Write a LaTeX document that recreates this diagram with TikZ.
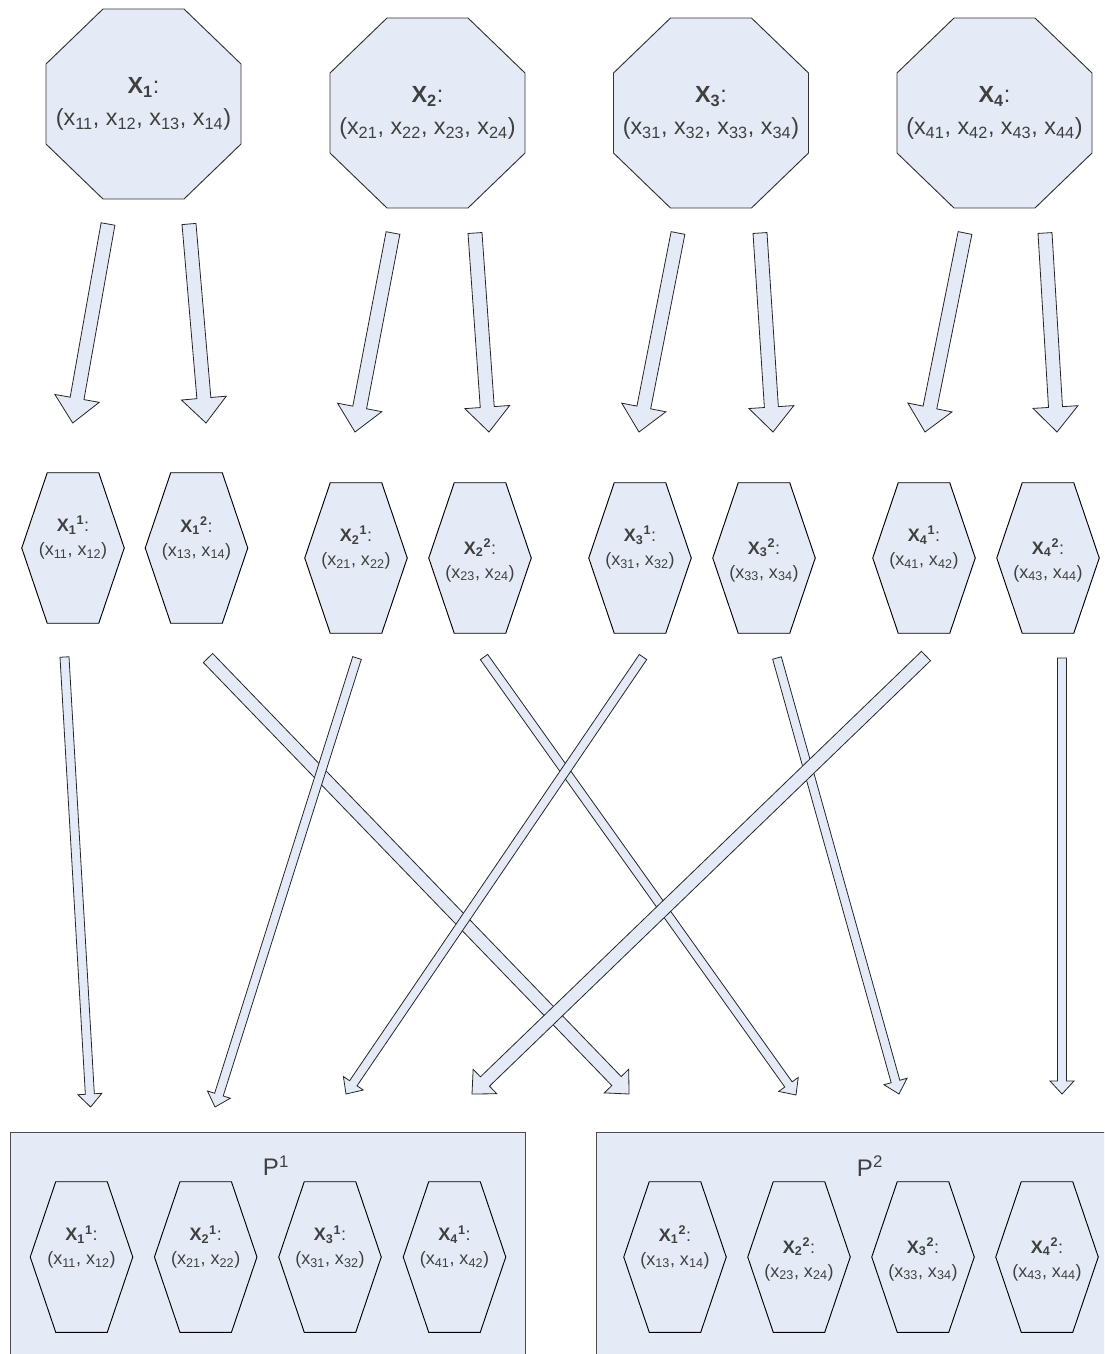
\documentclass[tikz,border=0pt]{standalone}
\usepackage{fontspec}
\setmainfont{Liberation Sans}
\usetikzlibrary{calc}
\definecolor{fillblue}{HTML}{E5EBF6}
\definecolor{txtgray}{HTML}{404040}
\tikzset{
  octline/.style={draw=black!80, fill=fillblue, line width=0.7pt, line join=miter},
  octtext/.style={draw=none, minimum width=146.25pt, minimum height=142.5pt, inner sep=0pt,
    text=txtgray, align=center, font=\fontsize{17.5}{24}\selectfont},
  hexframe/.style={draw=none, minimum width=76.5pt, minimum height=112.5pt, inner sep=0pt},
  hexline/.style={draw=black, fill=fillblue, line width=0.7pt, line join=miter},
  hextext/.style={text=txtgray, align=center, inner sep=0pt, font=\fontsize{13.5}{18}\selectfont},
  barrow/.style={draw=black!85, fill=fillblue, line width=0.6pt, line join=miter},
  pbox/.style={draw=black!70, fill=fillblue, line width=1.1pt, inner sep=0pt, anchor=north west},
  plabel/.style={text=txtgray, inner sep=0pt, font=\fontsize{18}{20}\selectfont},
}
\newcommand\xlab[2]{\textbf{X\textsubscript{#1}\textsuperscript{#2}}:}
\newcommand\xpair[2]{(x\textsubscript{#1}, x\textsubscript{#2})}
\newcommand\octnode[4]{%
  \path[octline] ($(#2,#3)+(-97.5,-40)$) -- ($(#2,#3)+(-40.5,-95)$) -- ($(#2,#3)+(40.5,-95)$)
    -- ($(#2,#3)+(97.5,-40)$) -- ($(#2,#3)+(97.5,40)$) -- ($(#2,#3)+(40.5,95)$)
    -- ($(#2,#3)+(-40.5,95)$) -- ($(#2,#3)+(-97.5,40)$) -- cycle;
  \node[octtext] (#1) at (#2,#3) {#4};
}
\newcommand\hexnode[5]{%
  \node[hexframe] (#1) at (#2,#3) {};
  \draw[hexline] (#1.west) -- ($(#1.north west)+(25.5,0)$) -- ($(#1.north east)+(-25.5,0)$)
    -- (#1.east) -- ($(#1.south east)+(-25.5,0)$) -- ($(#1.south west)+(25.5,0)$) -- cycle;
  \node[hextext] (#1-t) at ($(#1)+(0,#4)$) {#5};
}
% block arrow: from, to, shaft half width, head half width, head length (px)
\newcommand\blockarrow[5]{%
  \coordinate (ba-base) at ($(#2)!#5*0.75pt!(#1)$);
  \draw[barrow] ($(#1)!#3*0.75pt!90:(#2)$) -- ($(ba-base)!#3*0.75pt!90:(#2)$)
    -- ($(ba-base)!#4*0.75pt!90:(#2)$) -- (#2) -- ($(ba-base)!#4*0.75pt!-90:(#2)$)
    -- ($(ba-base)!#3*0.75pt!-90:(#2)$) -- ($(#1)!#3*0.75pt!-90:(#2)$) -- cycle;
}
\begin{document}
\begin{tikzpicture}[x=0.75pt,y=-0.75pt]
\path[use as bounding box] (0,0) rectangle (1104,1354);
\clip (0,0) rectangle (1104,1354);
\fill[white] (0,0) rectangle (1104,1354);

% octagons
\octnode{O1}{143.5}{104}{\textbf{X\textsubscript{1}}:\\(x\textsubscript{11}, x\textsubscript{12}, x\textsubscript{13}, x\textsubscript{14})}
\octnode{O2}{427.5}{113}{\textbf{X\textsubscript{2}}:\\(x\textsubscript{21}, x\textsubscript{22}, x\textsubscript{23}, x\textsubscript{24})}
\octnode{O3}{711}{113}{\textbf{X\textsubscript{3}}:\\(x\textsubscript{31}, x\textsubscript{32}, x\textsubscript{33}, x\textsubscript{34})}
\octnode{O4}{994.5}{113}{\textbf{X\textsubscript{4}}:\\(x\textsubscript{41}, x\textsubscript{42}, x\textsubscript{43}, x\textsubscript{44})}

% middle hexagons
\hexnode{m11}{73}{548}{-10}{\xlab{1}{1}\\\xpair{11}{12}}
\hexnode{m12}{196.5}{548}{-10}{\xlab{1}{2}\\\xpair{13}{14}}
\hexnode{m21}{356}{558}{-10}{\xlab{2}{1}\\\xpair{21}{22}}
\hexnode{m22}{480}{558}{2}{\xlab{2}{2}\\\xpair{23}{24}}
\hexnode{m31}{640}{558}{-10}{\xlab{3}{1}\\\xpair{31}{32}}
\hexnode{m32}{764}{558}{2}{\xlab{3}{2}\\\xpair{33}{34}}
\hexnode{m41}{924}{558}{-10}{\xlab{4}{1}\\\xpair{41}{42}}
\hexnode{m42}{1048}{558}{2}{\xlab{4}{2}\\\xpair{43}{44}}

% partition boxes
\node[pbox, minimum width=386.25pt, minimum height=174.75pt] (P1) at (10,1132) {};
\node[pbox, minimum width=389.25pt, minimum height=174.75pt] (P2) at (596,1132) {};
\node[plabel] (P1l) at (276,1166) {P\textsuperscript{1}};
\node[plabel] (P2l) at (870,1166) {P\textsuperscript{2}};

\hexnode{b11}{81.5}{1257}{-10}{\xlab{1}{1}\\\xpair{11}{12}}
\hexnode{b21}{205.7}{1257}{-10}{\xlab{2}{1}\\\xpair{21}{22}}
\hexnode{b31}{330}{1257}{-10}{\xlab{3}{1}\\\xpair{31}{32}}
\hexnode{b41}{454.5}{1257}{-10}{\xlab{4}{1}\\\xpair{41}{42}}
\hexnode{b12}{675}{1257}{-10}{\xlab{1}{2}\\\xpair{13}{14}}
\hexnode{b22}{799}{1257}{2}{\xlab{2}{2}\\\xpair{23}{24}}
\hexnode{b32}{923}{1257}{2}{\xlab{3}{2}\\\xpair{33}{34}}
\hexnode{b42}{1047}{1257}{2}{\xlab{4}{2}\\\xpair{43}{44}}

% top arrow end points
\coordinate (t1s) at (108,224);   \coordinate (t1e) at (72.7,423);
\coordinate (t2s) at (189,224);   \coordinate (t2e) at (206,423);
\coordinate (t3s) at (393,233);   \coordinate (t3e) at (355,432);
\coordinate (t4s) at (475,233);   \coordinate (t4e) at (489,432);
\coordinate (t5s) at (678,233);   \coordinate (t5e) at (639,432);
\coordinate (t6s) at (760,233);   \coordinate (t6e) at (773,432);
\coordinate (t7s) at (965,233);   \coordinate (t7e) at (925,432);
\coordinate (t8s) at (1045,233);  \coordinate (t8e) at (1057,432);
\foreach \i in {1,...,8}{\blockarrow{t\i s}{t\i e}{7}{22.5}{25}}

% bottom arrow end points
\coordinate (d1s) at (64.5,657);  \coordinate (d1e) at (90.6,1107);
\coordinate (d2s) at (208,658);   \coordinate (d2e) at (629,1094);
\coordinate (d3s) at (357,658);   \coordinate (d3e) at (215,1107);
\coordinate (d4s) at (484,657);   \coordinate (d4e) at (796,1095);
\coordinate (d5s) at (643,657);   \coordinate (d5e) at (346,1094);
\coordinate (d6s) at (777,658);   \coordinate (d6e) at (899,1094);
\coordinate (d7s) at (926,656);   \coordinate (d7e) at (472,1094);
\coordinate (d8s) at (1062,658);  \coordinate (d8e) at (1062,1094);
\blockarrow{d1s}{d1e}{4.5}{12}{13}
\blockarrow{d2s}{d2e}{6.5}{17}{18}
\blockarrow{d3s}{d3e}{4.5}{12}{13}
\blockarrow{d4s}{d4e}{4.5}{12}{13}
\blockarrow{d5s}{d5e}{4.5}{12}{13}
\blockarrow{d6s}{d6e}{4.5}{12}{13}
\blockarrow{d7s}{d7e}{6.5}{17}{18}
\blockarrow{d8s}{d8e}{4.5}{12}{13}
\end{tikzpicture}
\end{document}
